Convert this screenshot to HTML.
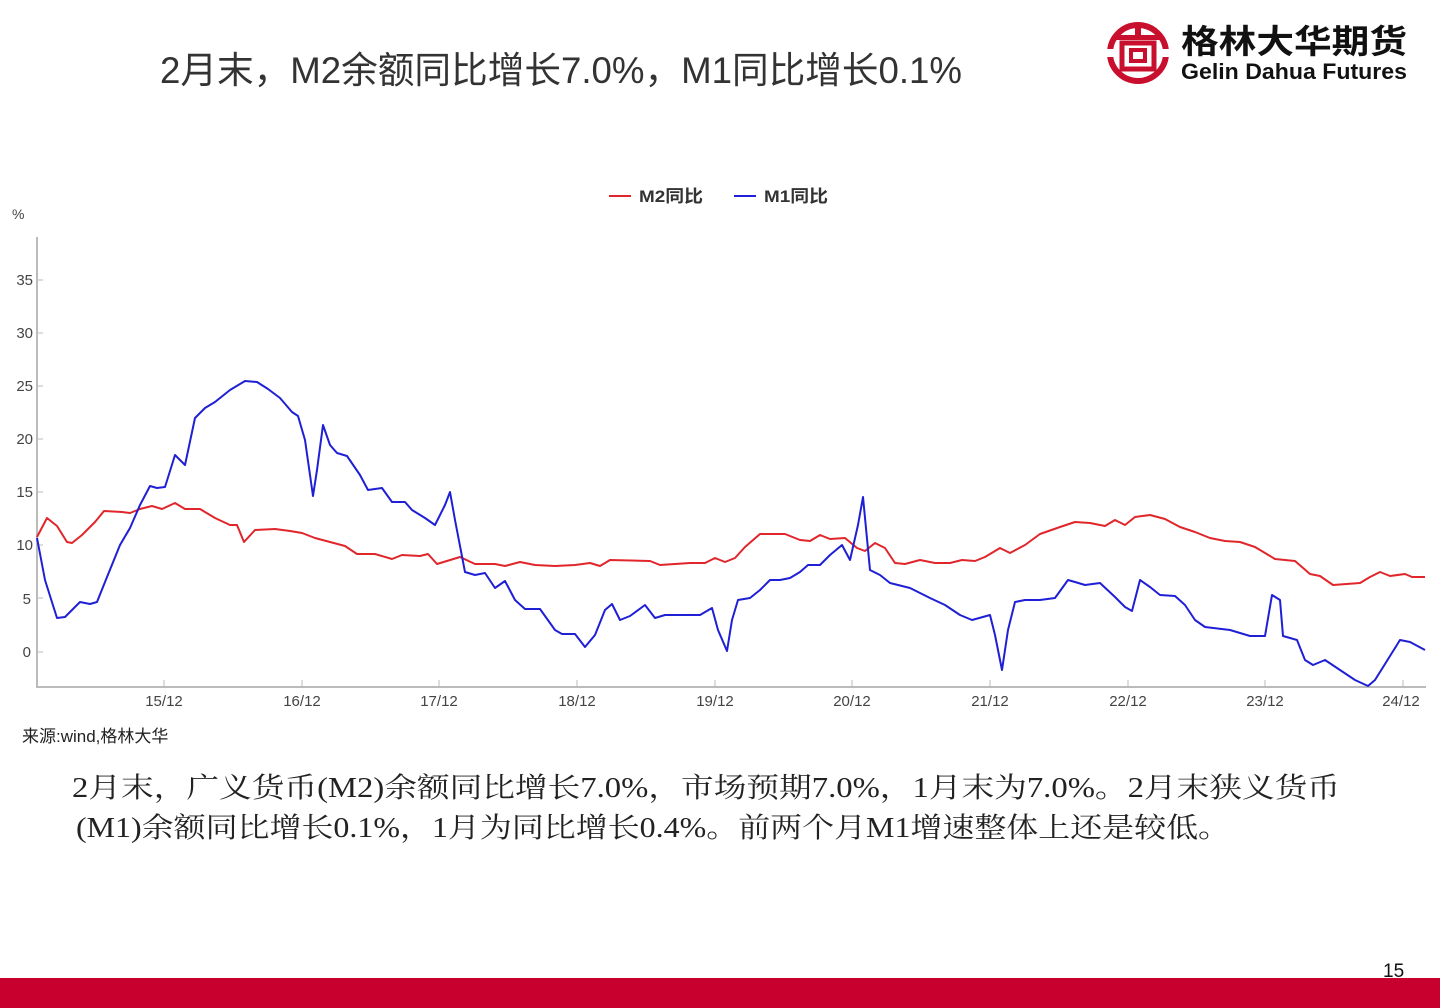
<!DOCTYPE html>
<html><head><meta charset="utf-8"><style>
html,body{margin:0;padding:0;background:#fff;}
svg{display:block;}
</style></head><body>
<svg width="1440" height="1008" viewBox="0 0 1440 1008" xmlns="http://www.w3.org/2000/svg" font-family="'Liberation Sans','Noto Sans CJK SC',sans-serif">
<rect width="1440" height="1008" fill="#fff"/>
<text x="160" y="83" font-size="37" fill="#333" textLength="802" lengthAdjust="spacingAndGlyphs">2月末，M2余额同比增长7.0%，M1同比增长0.1%</text>
<g transform="translate(1138,53)">
<circle r="28" fill="none" stroke="#c8102e" stroke-width="6"/>
<rect x="-34" y="-4" width="10" height="8" fill="#fff"/>
<rect x="24" y="-4" width="10" height="8" fill="#fff"/>
<rect x="-22" y="-18" width="44" height="5" fill="#c8102e"/>
<rect x="-3" y="-25" width="6" height="10" fill="#c8102e"/>
<rect x="-16" y="-10" width="32" height="26" fill="none" stroke="#c8102e" stroke-width="5"/>
<rect x="-7" y="-3" width="14" height="11" fill="none" stroke="#c8102e" stroke-width="4"/>
</g>
<text x="1181" y="53" font-size="33" font-weight="bold" fill="#111" textLength="226" lengthAdjust="spacingAndGlyphs">格林大华期货</text>
<text x="1181" y="79" font-size="22" font-weight="bold" fill="#111" textLength="226" lengthAdjust="spacingAndGlyphs">Gelin Dahua Futures</text>
<line x1="609" y1="196" x2="631" y2="196" stroke="#e0262b" stroke-width="2"/>
<text x="639" y="202" font-size="17" font-weight="bold" fill="#333" textLength="64" lengthAdjust="spacingAndGlyphs">M2同比</text>
<line x1="734" y1="196" x2="756" y2="196" stroke="#1f1fd6" stroke-width="2"/>
<text x="764" y="202" font-size="17" font-weight="bold" fill="#333" textLength="64" lengthAdjust="spacingAndGlyphs">M1同比</text>
<text x="12" y="219" font-size="14" fill="#444">%</text>
<line x1="37" y1="237" x2="37" y2="687" stroke="#bbb" stroke-width="2"/>
<line x1="36" y1="687" x2="1426" y2="687" stroke="#bbb" stroke-width="2"/>
<g font-size="15" fill="#444" text-anchor="end">
<text x="33" y="285">35</text><text x="33" y="338">30</text><text x="33" y="391">25</text>
<text x="33" y="444">20</text><text x="33" y="497">15</text><text x="33" y="550">10</text>
<text x="31" y="604">5</text><text x="31" y="657">0</text>
</g>
<g stroke="#bbb" stroke-width="1">
<line x1="37" y1="280" x2="43" y2="280"/><line x1="37" y1="333" x2="43" y2="333"/><line x1="37" y1="386" x2="43" y2="386"/><line x1="37" y1="439" x2="43" y2="439"/><line x1="37" y1="492" x2="43" y2="492"/><line x1="37" y1="545" x2="43" y2="545"/><line x1="37" y1="598" x2="43" y2="598"/><line x1="37" y1="652" x2="43" y2="652"/>
<line x1="164" y1="680" x2="164" y2="687"/><line x1="302" y1="680" x2="302" y2="687"/><line x1="439" y1="680" x2="439" y2="687"/><line x1="577" y1="680" x2="577" y2="687"/><line x1="715" y1="680" x2="715" y2="687"/><line x1="852" y1="680" x2="852" y2="687"/><line x1="990" y1="680" x2="990" y2="687"/><line x1="1128" y1="680" x2="1128" y2="687"/><line x1="1265" y1="680" x2="1265" y2="687"/><line x1="1403" y1="680" x2="1403" y2="687"/>
</g>
<g font-size="15" fill="#444" text-anchor="middle">
<text x="164" y="706">15/12</text><text x="302" y="706">16/12</text><text x="439" y="706">17/12</text><text x="577" y="706">18/12</text><text x="715" y="706">19/12</text><text x="852" y="706">20/12</text><text x="990" y="706">21/12</text><text x="1128" y="706">22/12</text><text x="1265" y="706">23/12</text><text x="1401" y="706">24/12</text>
</g>
<polyline fill="none" stroke="#e0262b" stroke-width="2" stroke-linejoin="round" points="37,537 47,518 57,526 67,542 72,543 82,535 95,522 104,511 122,512 130,513 140,509 152,506 162,509 175,503 185,509 200,509 215,518 230,525 237,525 244,542 255,530 275,529 290,531 302,533 315,538 345,546 357,554 375,554 392,559 402,555 420,556 428,554 437,564 460,557 475,564 495,564 505,566 520,562 535,565 555,566 575,565 590,563 600,566 610,560 650,561 660,565 690,563 705,563 715,558 725,562 735,558 745,547 760,534 785,534 800,540 810,541 820,535 830,539 845,538 857,548 865,551 875,543 885,548 895,563 905,564 920,560 935,563 950,563 962,560 975,561 985,557 1000,548 1010,553 1025,545 1040,534 1060,527 1075,522 1090,523 1105,526 1115,520 1125,525 1135,517 1150,515 1165,519 1180,527 1195,532 1210,538 1225,541 1240,542 1255,547 1275,559 1295,561 1310,574 1320,576 1333,585 1360,583 1370,577 1380,572 1390,576 1405,574 1412,577 1425,577"/>
<polyline fill="none" stroke="#1f1fd6" stroke-width="2" stroke-linejoin="round" points="37,538 45,580 57,618 65,617 80,602 90,604 97,602 105,582 120,545 130,528 140,505 150,486 157,488 165,487 175,455 185,465 195,418 205,408 215,402 230,390 245,381 257,382 268,389 280,398 292,412 298,416 305,440 313,496 317,470 323,425 330,445 337,453 347,456 360,475 368,490 382,488 392,502 405,502 412,510 425,518 435,525 445,505 450,492 455,520 465,572 475,575 485,573 495,588 505,581 515,600 525,609 540,609 555,630 562,634 575,634 585,647 595,635 605,610 612,604 620,620 630,616 645,605 655,618 665,615 700,615 712,608 718,630 727,651 732,620 738,600 750,598 760,590 770,580 780,580 790,578 800,572 808,565 820,565 830,555 842,545 850,560 858,525 863,497 870,570 880,575 890,583 910,588 930,598 945,605 960,615 972,620 990,615 995,635 1002,670 1008,630 1015,602 1025,600 1040,600 1055,598 1068,580 1075,582 1085,585 1100,583 1115,597 1125,607 1132,611 1140,580 1150,587 1160,595 1175,596 1185,605 1195,620 1205,627 1230,630 1240,633 1250,636 1265,636 1272,595 1280,600 1283,636 1297,640 1305,660 1313,665 1325,660 1340,670 1355,680 1368,686 1375,680 1390,656 1400,640 1410,642 1425,650"/>
<text x="22" y="742" font-size="17" fill="#222">来源:wind,格林大华</text>
<g font-family="'Liberation Serif','Noto Serif CJK SC',serif" font-size="28" fill="#222">
<text x="72" y="797" textLength="1268" lengthAdjust="spacingAndGlyphs">2月末，广义货币(M2)余额同比增长7.0%，市场预期7.0%，1月末为7.0%。2月末狭义货币</text>
<text x="76" y="837" textLength="1154" lengthAdjust="spacingAndGlyphs">(M1)余额同比增长0.1%，1月为同比增长0.4%。前两个月M1增速整体上还是较低。</text>
</g>
<rect x="0" y="978" width="1440" height="30" fill="#c8002d"/>
<text x="1383" y="977" font-size="19" fill="#111">15</text>
</svg>
</body></html>
